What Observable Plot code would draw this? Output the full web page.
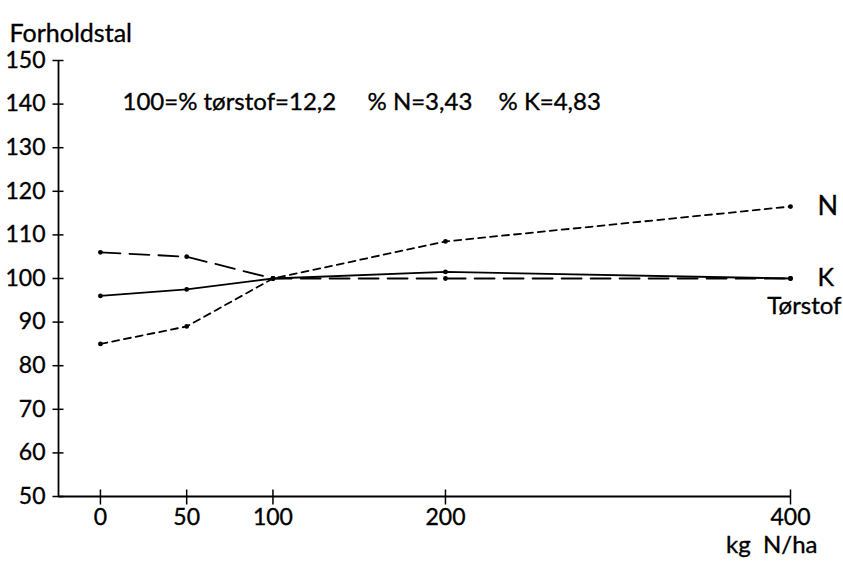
<!DOCTYPE html>
<html>
<head>
<meta charset="utf-8">
<script src="https://cdn.jsdelivr.net/npm/d3@7"></script>
<script src="https://cdn.jsdelivr.net/npm/@observablehq/plot@0.6"></script>
<style>
  html, body { margin: 0; padding: 0; background: #fff; }
  svg text { stroke: #000; stroke-width: 0.35px; }
</style>
</head>
<body>
<div id="chart"></div>
<script>
// ---- data ----
const doses = [0, 50, 100, 200, 400];
const torstof = [106, 105, 100, 100, 100];
const kalium = [96, 97.5, 100, 101.5, 100];
const nitrogen = [85, 89, 100, 108.5, 116.5];
const xTicks = [0, 50, 100, 200, 400];
const yTicks = [50, 60, 70, 80, 90, 100, 110, 120, 130, 140, 150];
const seriesNames = ["Tørstof", "K", "N"];
const notes = ["100=% tørstof=12,2", "% N=3,43", "% K=4,83"];
const yTitle = "Forholdstal";
const xTitle = "kg  N/ha";

const rows = (vals) => doses.map((d, i) => ({dose: d, value: vals[i]}));
const T = rows(torstof), K = rows(kalium), N = rows(nitrogen);

const hTick = {draw(ctx) { ctx.moveTo(-6, 0); ctx.lineTo(5, 0); }};
const vTick = {draw(ctx) { ctx.moveTo(0, -7); ctx.lineTo(0, 8); }};

const font = "Lato, 'Open Sans', sans-serif";

const chart = Plot.plot({
  width: 843,
  height: 565,
  marginLeft: 58,
  marginRight: 53,
  marginTop: 60,
  marginBottom: 69,
  style: {fontFamily: font, fontSize: "23px", color: "black", background: "white", overflow: "visible"},
  x: {domain: [-24.3, 400], ticks: xTicks},
  y: {domain: [50, 150], ticks: yTicks},
  marks: [
    Plot.ruleY([50], {stroke: "black", strokeWidth: 1.8}),
    Plot.ruleX([-24.3], {stroke: "black", strokeWidth: 1.8}),
    Plot.dot(yTicks, {y: d => d, frameAnchor: "left", symbol: hTick, stroke: "black", fill: "none", strokeWidth: 1.5}),
    Plot.dot(xTicks, {x: d => d, frameAnchor: "bottom", symbol: vTick, stroke: "black", fill: "none", strokeWidth: 1.5}),
    Plot.axisY({ticks: yTicks, tickSize: 0, tickPadding: 13, label: null, fontSize: 23}),
    Plot.axisX({ticks: xTicks, tickSize: 0, tickPadding: 12, label: null, fontSize: 23}),
    Plot.line(T, {x: "dose", y: "value", stroke: "black", strokeWidth: 1.8, strokeDasharray: "20,9"}),
    Plot.line(K, {x: "dose", y: "value", stroke: "black", strokeWidth: 1.8}),
    Plot.line(N, {x: "dose", y: "value", stroke: "black", strokeWidth: 1.8, strokeDasharray: "7,5"}),
    Plot.dot([...T, ...K, ...N], {x: "dose", y: "value", r: 2.4, fill: "black"}),
    Plot.text([N[N.length - 1]], {x: "dose", y: "value", text: () => seriesNames[2], textAnchor: "start", dx: 27, fontSize: 27}),
    Plot.text([K[K.length - 1]], {x: "dose", y: "value", text: () => seriesNames[1], textAnchor: "start", dx: 27, dy: -1, fontSize: 25}),
    Plot.text([T[T.length - 1]], {x: "dose", y: "value", text: () => seriesNames[0], textAnchor: "end", dx: 51, dy: 28, fontSize: 24}),
    Plot.text([notes[0]], {frameAnchor: "top-left", text: d => d, textAnchor: "start", dx: 64, dy: 32, fontSize: 24}),
    Plot.text([notes[1]], {frameAnchor: "top-left", text: d => d, textAnchor: "start", dx: 309, dy: 32, fontSize: 24}),
    Plot.text([notes[2]], {frameAnchor: "top-left", text: d => d, textAnchor: "start", dx: 440, dy: 32, fontSize: 24}),
    Plot.text([yTitle], {frameAnchor: "top-left", text: d => d, textAnchor: "start", dx: -49, dy: -36, fontSize: 25}),
    Plot.text([xTitle], {frameAnchor: "bottom-right", text: d => d, textAnchor: "end", dx: 27, dy: 56, fontSize: 24})
  ]
});
document.getElementById("chart").appendChild(chart);
</script>
</body>
</html>
